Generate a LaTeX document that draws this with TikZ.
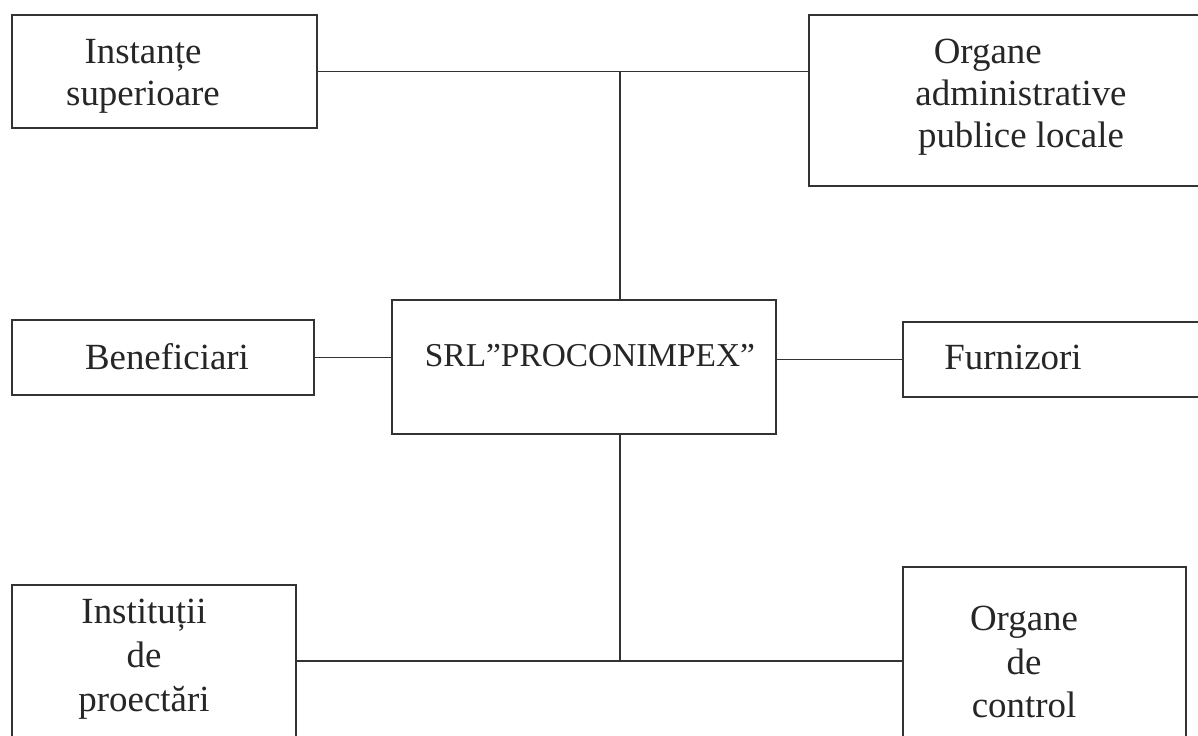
\documentclass[tikz,border=0pt]{standalone}
\usepackage{fontspec}
\setmainfont{Liberation Serif}
\usepackage{tikz}
\usetikzlibrary{positioning, calc}
\tikzstyle{box} = [rectangle, draw=black!80, line width=1.1pt, inner sep=0pt]
\tikzstyle{lbl} = [align=center, inner sep=0pt, text=black!85, font=\fontsize{21}{24}\selectfont]
\tikzstyle{link} = [draw=black!80, line width=1.1pt]
\begin{document}
\begin{tikzpicture}[x=0.02cm, y=-0.02cm]
\path[use as bounding box, clip] (0,0) rectangle (1198,735);
\fill[white] (0,0) rectangle (1198,735);

% Boxes
\node[box, minimum width=6.1cm, minimum height=2.26cm] (inst) at (164.5,71.5) {};
\node[lbl] at (143,76.5) {Instanțe\\superioare};

\node[box, minimum width=8.12cm, minimum height=3.42cm] (adm) at (1012,100.5) {};
\node[lbl] at (1021,97) {Organe\hspace*{1.8em}\\administrative\\publice locale};

\node[box, minimum width=7.68cm, minimum height=2.68cm] (srl) at (584,367) {};
\node[lbl, font=\fontsize{19}{22}\selectfont] at (590,356) {SRL”PROCONIMPEX”};

\node[box, minimum width=6.04cm, minimum height=1.5cm] (benef) at (163,357.5) {};
\node[lbl] at (167,357) {Beneficiari};

\node[box, minimum width=6.24cm, minimum height=1.5cm] (furn) at (1059,359.5) {};
\node[lbl] at (1013,357) {Furnizori};

\node[box, minimum width=5.68cm, minimum height=3.7cm] (instp) at (154,677.5) {};
\node[lbl, font=\fontsize{21}{25}\selectfont] at (144,659) {Instituții\\de\\proectări};

\node[box, minimum width=5.66cm, minimum height=4.06cm] (ctrl) at (1044.5,668.5) {};
\node[lbl, font=\fontsize{21}{25}\selectfont] at (1024,662) {Organe\\de\\control};

% Junctions
\coordinate (jtop) at (620,72);
\coordinate (jbot) at (620,661);

% Connectors
\draw[link] (inst.east) -- (inst.east -| adm.west);
\draw[link] (jtop) -- (jtop |- srl.north);
\draw[link] (benef.east) -- (benef.east -| srl.west);
\draw[link] (furn.west -| srl.east) -- (furn.west);
\draw[link] (jtop |- srl.south) -- (jbot);
\draw[link] (jbot -| instp.east) -- (jbot -| ctrl.west);

\end{tikzpicture}
\end{document}
